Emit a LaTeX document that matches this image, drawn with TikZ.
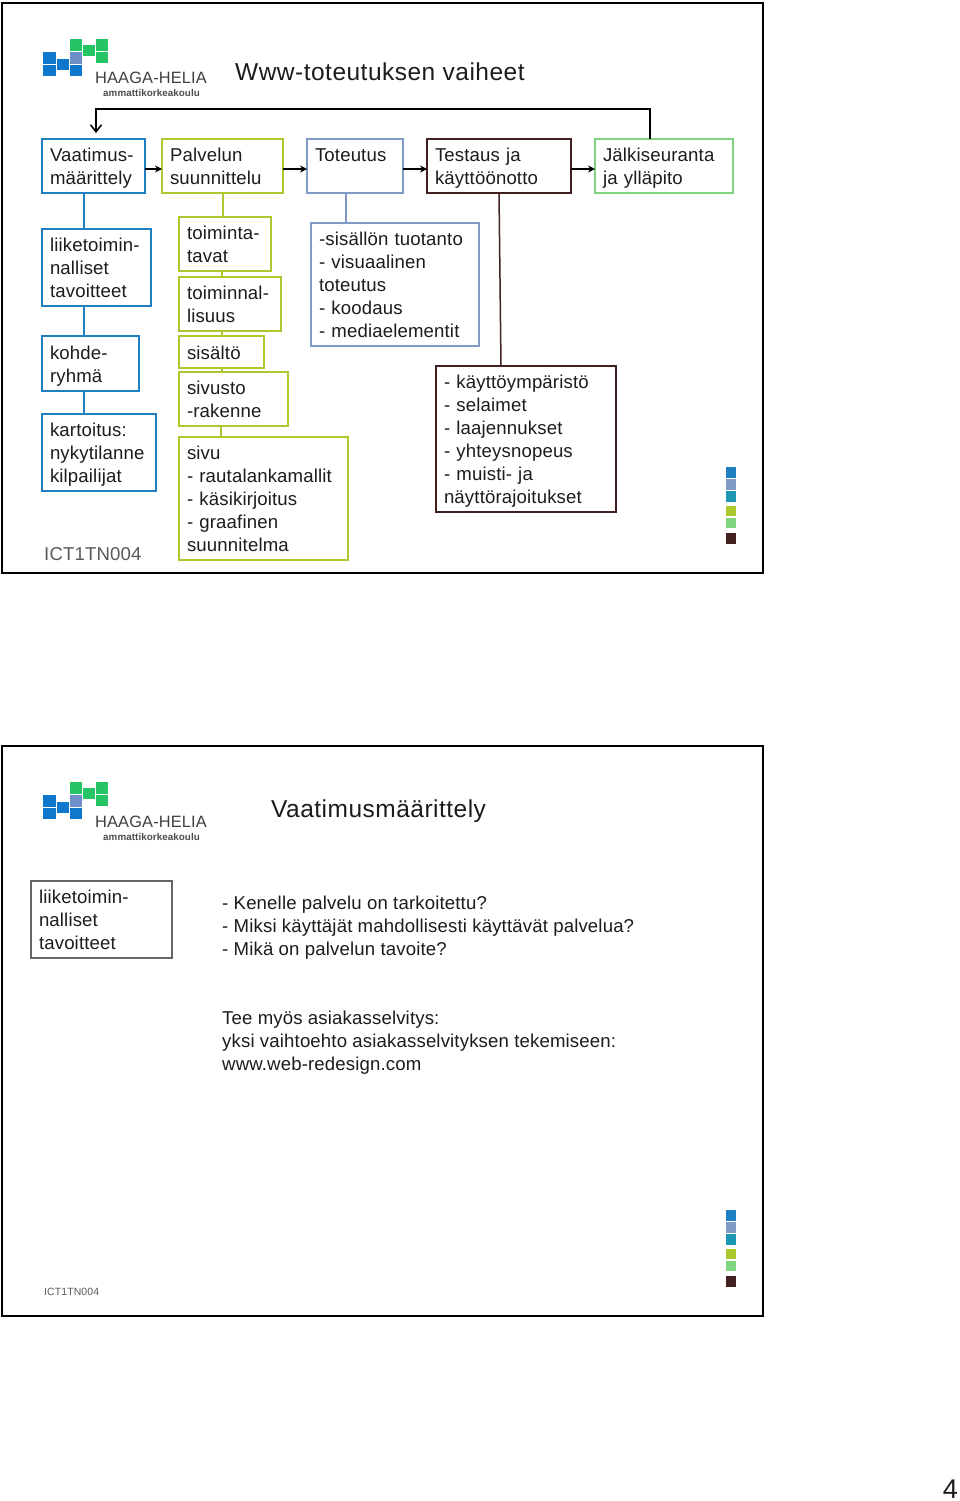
\documentclass[tikz,border=0pt]{standalone}
\usepackage{fontspec}
\setmainfont[LetterSpace=0.8]{Liberation Sans}
\usetikzlibrary{arrows.meta}
\definecolor{cblue}{HTML}{1F7FC1}
\definecolor{colive}{HTML}{ABC92F}
\definecolor{cperi}{HTML}{7F9AC6}
\definecolor{cdark}{HTML}{42201F}
\definecolor{clight}{HTML}{80D680}
\definecolor{cteal}{HTML}{1E97B5}
\definecolor{lgreen}{HTML}{25C565}
\definecolor{lblue}{HTML}{0F78CC}
\definecolor{lperi}{HTML}{6F8FC8}
\definecolor{ink}{HTML}{1C1C1C}
\newcommand{\bodyfs}{\fontsize{18.6}{23}\selectfont}
\newcommand{\titlefs}{\fontsize{24.5}{28}\selectfont\addfontfeature{LetterSpace=2}}
\tikzset{
  x=1pt,y=-1pt,
  frame/.style={draw=black,line width=2.6pt,fill=white},
  bx/.style={draw,line width=1.6pt,outer sep=0pt,anchor=north west,align=left,inner sep=0pt,text=ink,font=\bodyfs},
  lnk/.style={line width=1.5pt},
  arr/.style={line width=1.4pt,draw=black,-{Stealth[length=7pt,width=7pt]}},
  txt/.style={anchor=north west,align=left,inner sep=0pt,text=ink,font=\bodyfs},
}
\newcommand{\mybox}[7]{% name, color, x0, y0, x1, y1, text
  \pgfmathsetmacro{\bw}{#5-#3}\pgfmathsetmacro{\bh}{#6-#4}\pgfmathsetmacro{\tw}{#5-#3-16}
  \node[bx,draw=#2,minimum width=\bw pt,minimum height=\bh pt,text width=\tw pt,at={(#3,#4)}] (#1) {\rule{0pt}{19pt}#7\rule[-5pt]{0pt}{5pt}};}
\newcommand{\logo}[2]{% y offset, prefix
  \begin{scope}[yshift=-#1pt]
    \foreach \a/\b/\c/\d/\e in {43/52/56/64/lblue,43/65/56/76/lblue,57/59/69/70/lblue,70/65/82/76/lblue,70/52/82/64/lperi,70/39/82/51/lgreen,83/45/95/56/lgreen,96/39/108/51/lgreen,96/52/108/63/lgreen}
      {\fill[\e] (\a,\b) rectangle (\c,\d);}
    \node[anchor=base west,inner sep=0pt,text=black!75,font=\fontsize{16.4}{20}\selectfont] (#2a) at (95,84) {HAAGA-HELIA};
    \node[anchor=base west,inner sep=0pt,text=black!70,font=\fontsize{9.8}{12}\selectfont\bfseries] (#2b) at (103,97) {ammattikorkeakoulu};
  \end{scope}}
\newcommand{\swatches}[1]{%
  \begin{scope}[yshift=-#1pt]
    \foreach \a/\b/\e in {467/478/cblue,479/490/cperi,491/502/cteal,506/516/colive,518/528/clight,533/544/cdark}
      {\fill[\e] (726,\a) rectangle (736,\b);}
  \end{scope}}
\begin{document}
\begin{tikzpicture}
\useasboundingbox (0,0) rectangle (960,1501);
\fill[white] (0,0) rectangle (960,1501);
\draw[frame] (2,3) rectangle (763,573);
\draw[frame] (2,746) rectangle (763,1316);
\logo{0}{la}
\logo{743}{lb}
\swatches{0}
\swatches{743}
\node[anchor=base west,inner sep=0pt,text=ink,font=\titlefs] (title1) at (235,81) {Www-toteutuksen vaiheet};
\node[anchor=base west,inner sep=0pt,text=ink,font=\titlefs] (title2) at (271,817.5) {Vaatimusmäärittely};

\mybox{vaat}{cblue}{42}{139}{145}{193}{Vaatimus-\\määrittely}
\mybox{palv}{colive}{162}{139}{283}{193}{Palvelun\\suunnittelu}
\mybox{tote}{cperi}{307}{139}{403}{193}{Toteutus\\\phantom{T}}
\mybox{test}{cdark}{427}{139}{571}{193}{Testaus ja\\käyttöönotto}
\mybox{jalk}{clight}{595}{139}{733}{193}{Jälkiseuranta\\ja ylläpito}

\mybox{liik}{cblue}{42}{229}{151}{306}{liiketoimin-\\nalliset\\tavoitteet}
\mybox{kohd}{cblue}{42}{336}{139}{391}{kohde-\\ryhmä}
\mybox{kart}{cblue}{42}{414}{156}{491}{kartoitus:\\nykytilanne\\kilpailijat}

\mybox{toim}{colive}{179}{217}{271}{271}{toiminta-\\tavat}
\mybox{toin}{colive}{179}{277}{281}{331}{toiminnal-\\lisuus}
\mybox{sisa}{colive}{179}{336}{264}{368}{sisältö}
\mybox{sivs}{colive}{179}{372}{288}{426}{sivusto\\-rakenne}
\mybox{sivu}{colive}{179}{437}{348}{560}{sivu\\- rautalankamallit\\- käsikirjoitus\\- graafinen\\suunnitelma}

\mybox{sisl}{cperi}{311}{223}{479}{346}{-sisällön tuotanto\\- visuaalinen\\toteutus\\- koodaus\\- mediaelementit}
\mybox{kayt}{cdark}{436}{366}{616}{512}{- käyttöympäristö\\- selaimet\\- laajennukset\\- yhteysnopeus\\- muisti- ja\\näyttörajoitukset}

\node[txt,text=black!65] (code1) at (44,547.5) {ICT1TN004};
\node[txt,text=black!65,font=\fontsize{10.5}{12}\selectfont] (code2) at (44,1288) {ICT1TN004};

\draw[arr] ([yshift=-3pt]vaat.east) -- ([yshift=-3pt]palv.west);
\draw[arr] ([yshift=-3pt]palv.east) -- ([yshift=-3pt]tote.west);
\draw[arr] ([yshift=-3pt]tote.east) -- ([yshift=-3pt]test.west);
\draw[arr] ([yshift=-3pt]test.east) -- ([yshift=-3pt]jalk.west);
\draw[line width=1.5pt,-{Straight Barb[length=7pt,width=11pt]}] (jalk.north -| 650,0) -- (650,109) -- (96,109) -- ([yshift=6pt]vaat.north -| 96,0);

\draw[lnk,cblue] (vaat.south -| 84,0) -- (liik.north -| 84,0);
\draw[lnk,cblue] (liik.south -| 84,0) -- (kohd.north -| 84,0);
\draw[lnk,cblue] (kohd.south -| 84,0) -- (kart.north -| 84,0);
\draw[lnk,colive] (palv.south -| 223,0) -- (toim.north -| 223,0);
\draw[lnk,colive] (toim.south -| 222,0) -- (toin.north -| 222,0);
\draw[lnk,colive] (toin.south -| 222,0) -- (sisa.north -| 222,0);
\draw[lnk,colive] (sisa.south -| 222,0) -- (sivs.north -| 222,0);
\draw[lnk,colive] (sivs.south -| 221,0) -- (sivu.north -| 221,0);
\draw[lnk,cperi] (tote.south -| 346,0) -- (sisl.north -| 346,0);
\draw[lnk,cdark] (test.south -| 499,0) -- (kayt.north -| 501,0);

\mybox{liib}{black!60,line width=1.1pt}{31}{881}{172}{958}{liiketoimin-\\nalliset\\tavoitteet}
\node[txt] (q) at (222,896) {- Kenelle palvelu on tarkoitettu?\\- Miksi käyttäjät mahdollisesti käyttävät palvelua?\\- Mikä on palvelun tavoite?};
\node[txt] (r) at (222,1011) {Tee myös asiakasselvitys:\\yksi vaihtoehto asiakasselvityksen tekemiseen:\\www.web-redesign.com};
\node[anchor=base east,inner sep=0pt,text=ink,font=\fontsize{27}{30}\selectfont] (pg) at (958,1498) {4};
\end{tikzpicture}
\end{document}
